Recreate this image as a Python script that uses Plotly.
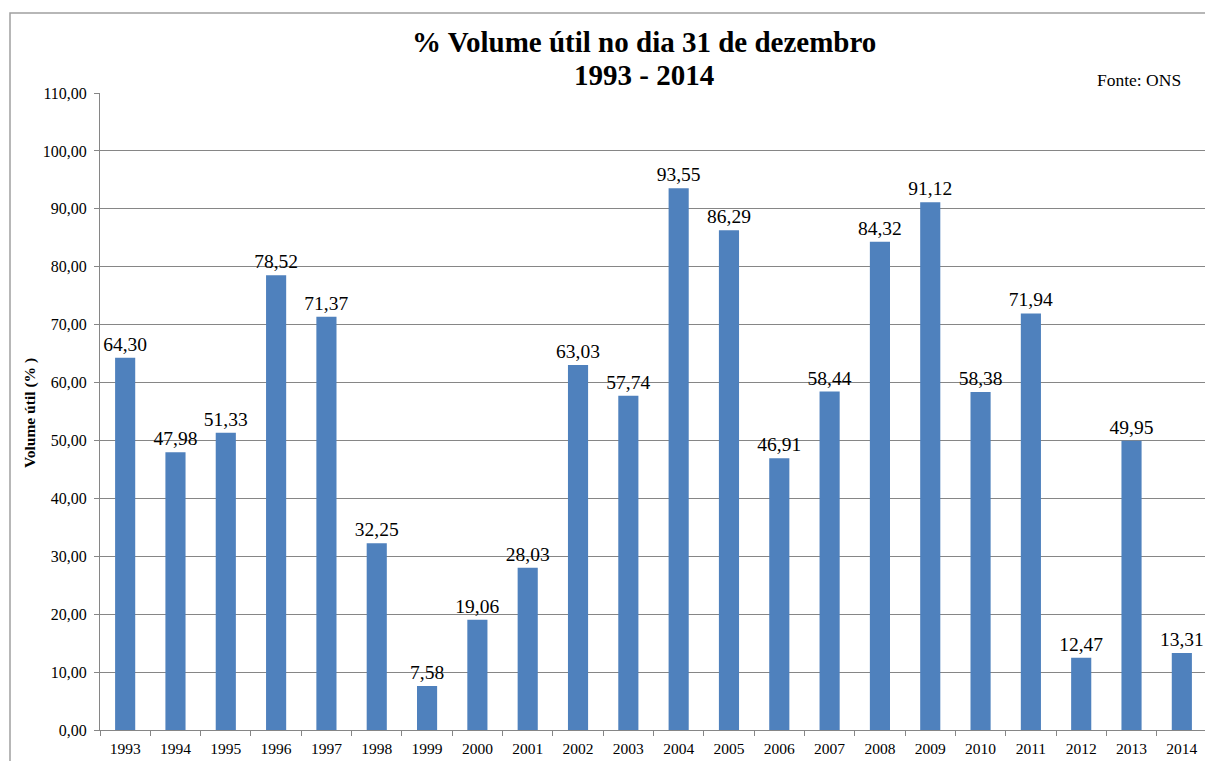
import plotly.graph_objects as go

anos = ["1993","1994","1995","1996","1997","1998","1999","2000","2001","2002","2003",
        "2004","2005","2006","2007","2008","2009","2010","2011","2012","2013","2014"]
volume = [64.30,47.98,51.33,78.52,71.37,32.25,7.58,19.06,28.03,63.03,57.74,
          93.55,86.29,46.91,58.44,84.32,91.12,58.38,71.94,12.47,49.95,13.31]
y_ticks = [0,10,20,30,40,50,60,70,80,90,100,110]
y_tick_text = [f"{v:.2f}".replace(".", ",") for v in y_ticks]
labels = [f"{v:.2f}".replace(".", ",") for v in volume]

font = "Liberation Serif, Times New Roman, serif"

# page offset (browser body margin)
OFF = 8
L, T = 100 - OFF, 93 - OFF
PW, PH = 1107, 637
W, H = 1205, 753
R = W - L - PW
B = H - T - PH

def px(x):
    return (x - OFF - L) / PW

def py(y):
    return (T + PH - (y - OFF)) / PH

fig = go.Figure(go.Bar(
    x=anos, y=volume, marker=dict(color="#4F81BD", line=dict(width=0)),
    text=labels, textposition="outside", cliponaxis=False, constraintext="none",
    textfont=dict(family=font, size=19.5, color="#000000"),
))

fig.update_layout(
    width=W, height=H,
    margin=dict(l=L, r=R, t=T, b=B, autoexpand=False),
    paper_bgcolor="white", plot_bgcolor="white",
    bargap=0.6, showlegend=False,
    font=dict(family=font, color="#000000"),
    xaxis=dict(type="category", tickson="boundaries", ticks="outside", ticklen=5,
               tickcolor="#868686", showline=True, linecolor="#868686", linewidth=1,
               showgrid=False, automargin=False, ticklabelstandoff=4,
               tickfont=dict(family=font, size=15.5, color="#000000")),
    yaxis=dict(range=[0, 110], tickvals=y_ticks, ticktext=y_tick_text,
               ticks="outside", ticklen=5, tickcolor="#868686",
               showline=True, linecolor="#868686", linewidth=1,
               showgrid=True, gridcolor="#868686", gridwidth=1, zeroline=False,
               automargin=False, ticklabelstandoff=4,
               tickfont=dict(family=font, size=16, color="#000000")),
    annotations=[
        dict(text="<b>% Volume útil no dia 31 de dezembro</b>", xref="paper", yref="paper",
             x=px(644), y=py(42), xanchor="center", yanchor="middle",
             showarrow=False, font=dict(family=font, size=29)),
        dict(text="<b>1993 - 2014</b>", xref="paper", yref="paper",
             x=px(644), y=py(75), xanchor="center", yanchor="middle",
             showarrow=False, font=dict(family=font, size=29)),
        dict(text="Fonte: ONS", xref="paper", yref="paper",
             x=px(1183), y=py(80), xanchor="right", yanchor="middle",
             showarrow=False, font=dict(family=font, size=17.5)),
        dict(text="<b>Volume útil (% )</b>", xref="paper", yref="paper",
             x=px(30), y=py(413), xanchor="center", yanchor="middle", textangle=-90,
             showarrow=False, font=dict(family=font, size=15.5)),
    ],
    shapes=[dict(type="rect", xref="paper", yref="paper",
                 x0=px(10), x1=px(1240),
                 y0=py(790), y1=py(13),
                 line=dict(color="#A0A0A0", width=1.5), layer="below")],
)

fig.write_html("out.html")
